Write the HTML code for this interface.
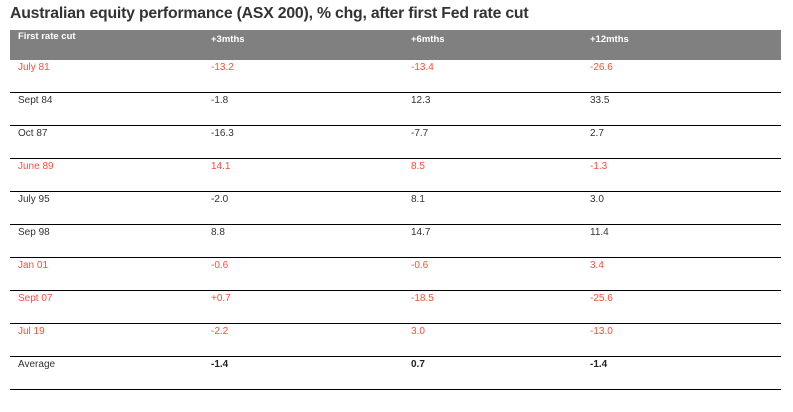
<!DOCTYPE html><html><head><style>
body{margin:0;width:793px;height:412px;background:#fff;font-family:"Liberation Sans",sans-serif;position:relative;overflow:hidden}
.t{position:absolute;left:10px;top:5px;font-size:15.8px;font-weight:bold;color:#333;letter-spacing:-0.2px}
.hd{position:absolute;left:10px;top:30px;width:771px;height:30px;background:#808080}
.c{position:absolute;font-size:10px;color:#333;white-space:nowrap}
.h{color:#fff;font-weight:bold;font-size:9.5px}
.r{color:#ff4b3a}
.b{font-weight:bold;color:#222}
.l{position:absolute;left:10px;width:771px;height:1px;background:#000}
</style></head><body>
<div class="t">Australian equity performance (ASX 200), % chg, after first Fed rate cut</div>
<div class="hd"></div>
<div class="c h" style="left:18px;top:31px">First rate cut</div>
<div class="c h" style="left:211px;top:34px">+3mths</div>
<div class="c h" style="left:411px;top:34px">+6mths</div>
<div class="c h" style="left:590px;top:34px">+12mths</div>
<div id="rows"></div>
<script>
var d=[["July 81","-13.2","-13.4","-26.6",1],["Sept 84","-1.8","12.3","33.5",0],["Oct 87","-16.3","-7.7","2.7",0],["June 89","14.1","8.5","-1.3",1],["July 95","-2.0","8.1","3.0",0],["Sep 98","8.8","14.7","11.4",0],["Jan  01","-0.6","-0.6","3.4",1],["Sept 07","+0.7","-18.5","-25.6",1],["Jul 19","-2.2","3.0","-13.0",1],["Average","-1.4","0.7","-1.4",2]];
var h="",xs=[18,211,411,590];
d.forEach(function(r,i){var y=62+i*33;for(var j=0;j<4;j++){var cl=r[4]==1?"r":(r[4]==2&&j>0?"b":"");h+='<div class="c '+cl+'" style="left:'+xs[j]+'px;top:'+y+'px">'+r[j]+'</div>';}
h+='<div class="l" style="top:'+(92+i*33)+'px"></div>';});
document.getElementById("rows").innerHTML=h;
</script>
</body></html>
